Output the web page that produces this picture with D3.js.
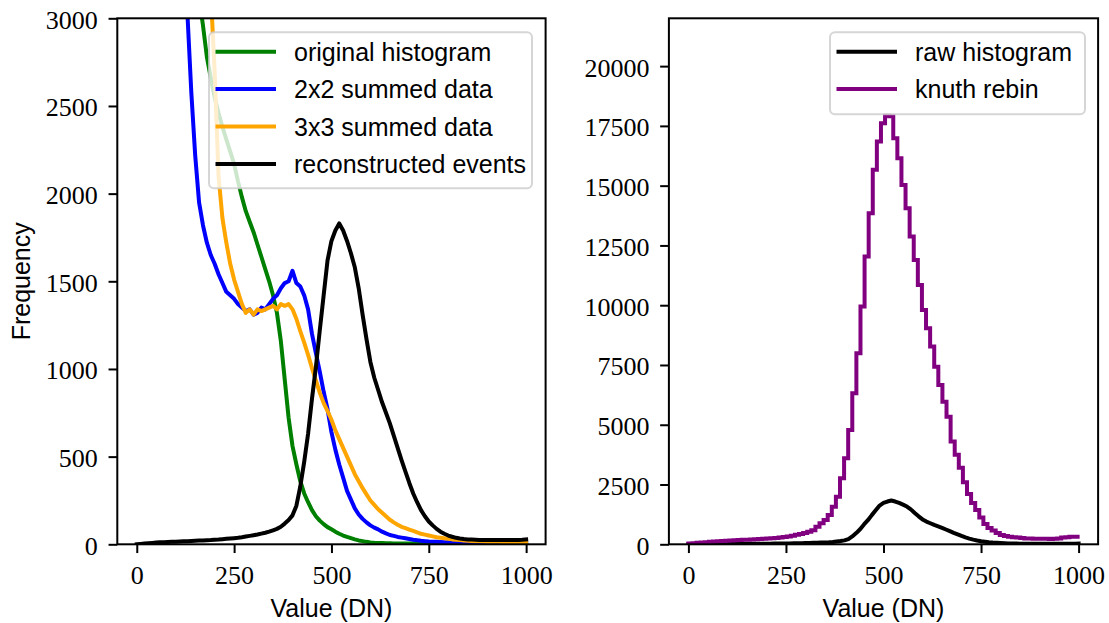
<!DOCTYPE html>
<html><head><meta charset="utf-8">
<script src="https://cdn.jsdelivr.net/npm/d3@7"></script>
<style>body{margin:0;background:#fff;} svg{display:block;}</style>
</head><body>
<svg id="chart" width="1109" height="623"></svg>
<script>
// ---------------- data ----------------
const dnGrid = [0,10,20,30,40,50,60,70,80,90,100,110,120,130,140,150,160,170,180,190,200,210,220,230,240,250,260,270,280,290,300,310,320,330,340,350,360,370,380,390,400,410,420,430,440,450,460,470,480,490,500,510,520,530,540,550,560,570,580,590,600,610,620,630,640,650,660,670,680,690,700,710,720,730,740,750,760,770,780,790,800,810,820,830,840,850,860,870,880,890,900,910,920,930,940,950,960,970,980,990,1000];

const originalHist = [12000,11000,10000,9200,8400,7700,7000,6400,5800,5300,4850,4450,4100,3800,3530,3300,3120,2960,2780,2660,2550,2460,2380,2310,2240,2170,2070,1980,1900,1840,1780,1710,1640,1570,1500,1420,1320,1160,940,720,560,455,360,290,240,195,160,135,115,98,86,72,60,50,42,35,28,22,18,14,11,9,8,7,6,6,5,5,5,4,4,4,4,4,4,3,3,3,3,3,3,3,3,3,3,3,3,3,3,3,3,3,3,3,3,3,3,3,3,3,3];

const summed2x2 = [20000,17000,14500,12500,10800,9300,8000,6900,6000,5200,4500,3950,3450,3030,2580,2220,1950,1820,1720,1650,1600,1540,1490,1440,1420,1400,1370,1350,1330,1340,1310,1320,1350,1340,1370,1400,1420,1460,1490,1500,1560,1490,1470,1420,1340,1200,1090,985,870,770,640,540,455,380,305,255,205,170,145,125,108,95,85,72,62,53,48,42,38,34,30,26,23,20,18,16,15,14,13,12,12,11,11,10,10,10,9,9,9,9,8,8,8,8,8,8,8,8,8,8,8];

const summed3x3 = [30000,27500,25000,22500,20000,18000,16000,14200,12500,11100,9800,8700,7600,6700,5900,5200,4550,4000,3550,3150,2700,2100,1860,1720,1600,1510,1440,1370,1320,1340,1310,1340,1330,1340,1350,1360,1340,1370,1360,1370,1340,1285,1215,1150,1080,1005,935,865,805,760,710,650,600,550,500,450,400,360,320,285,250,225,200,180,160,140,125,112,100,92,84,76,68,60,55,50,45,40,37,34,31,28,26,24,22,20,19,18,17,16,15,15,14,14,13,13,12,12,12,11,11];

const reconstructed = [0,2,4,6,8,10,11,12,13,14,15,16,17,18,19,20,21,22,23,24,26,27,29,31,33,35,37,40,44,48,52,56,61,66,72,80,88,100,118,138,165,220,330,470,630,830,1010,1220,1420,1620,1730,1790,1830,1790,1730,1660,1580,1460,1310,1170,1040,950,880,810,750,690,620,550,480,415,350,290,240,195,160,130,108,88,72,60,50,43,37,33,30,28,27,26,25,25,25,24,24,25,25,24,24,25,25,26,28];

const knuthEdges = [0,10.5,21,31.5,42,52.5,63,73.5,84,94.5,105,115.5,126,136.5,147,157.5,168,178.5,189,199.5,210,220.5,231,241.5,252,262.5,273,283.5,294,304.5,315,325.5,336,346.5,357,367.5,378,388.5,399,409.5,420,430.5,441,451.5,462,472.5,483,493.5,504,514.5,525,535.5,546,556.5,567,577.5,588,598.5,609,619.5,630,640.5,651,661.5,672,682.5,693,703.5,714,724.5,735,745.5,756,766.5,777,787.5,798,808.5,819,829.5,840,850.5,861,871.5,882,892.5,903,913.5,924,934.5,945,955.5,966,976.5,987,997.5];

const knuthCounts = [30,45,60,75,90,105,115,130,140,150,160,170,180,190,195,205,210,220,230,240,250,265,285,305,330,360,395,430,470,520,590,736,879,1017,1226,1573,1992,2762,3598,4782,6318,7992,9941,12034,13849,15661,16845,17615,17950,17900,16987,16151,15033,14059,12870,11895,10849,9803,9038,8268,7431,6665,5967,5339,4300,3750,3200,2600,2100,1730,1430,1120,850,680,575,470,390,350,320,295,280,260,245,240,235,232,230,228,225,230,240,280,300,315,320];

const xTicks = [0,250,500,750,1000];
const yTicksLeft = [0,500,1000,1500,2000,2500,3000];
const yTicksRight = [0,2500,5000,7500,10000,12500,15000,17500,20000];

const leftSeries = [
  {name:"original histogram", color:"green", values: originalHist},
  {name:"2x2 summed data", color:"blue", values: summed2x2},
  {name:"3x3 summed data", color:"orange", values: summed3x3},
  {name:"reconstructed events", color:"black", values: reconstructed}
];

// ---------------- layout ----------------
const svg = d3.select("#chart");
const plotTop = 18.3, plotBottom = 544.3;
const L = {x0:117.3, x1:545.6};
const R = {x0:668.9, x1:1098.1};
const serif = "'Liberation Serif', 'Times New Roman', serif";
const sans = "'Liberation Sans', Arial, sans-serif";
const lw = 4;

const xL = d3.scaleLinear().domain([-50,1050]).range([L.x0, L.x1]);
const xR = d3.scaleLinear().domain([-50,1050]).range([R.x0, R.x1]);
const yL = d3.scaleLinear().domain([0,3000]).range([plotBottom, plotTop]);
const yR = d3.scaleLinear().domain([0,22000]).range([plotBottom, plotTop]);

const defs = svg.append("defs");
defs.append("clipPath").attr("id","clipL").append("rect")
  .attr("x",L.x0).attr("y",plotTop).attr("width",L.x1-L.x0).attr("height",plotBottom-plotTop);
defs.append("clipPath").attr("id","clipR").append("rect")
  .attr("x",R.x0).attr("y",plotTop).attr("width",R.x1-R.x0).attr("height",plotBottom-plotTop);

// ---- left lines ----
const gL = svg.append("g").attr("clip-path","url(#clipL)");
leftSeries.forEach(s => {
  const line = d3.line().x((d,i)=>xL(dnGrid[i])).y(d=>yL(d));
  gL.append("path").datum(s.values).attr("d", line)
    .attr("fill","none").attr("stroke", s.color).attr("stroke-width", lw)
    .attr("stroke-linejoin","round").attr("stroke-linecap","square");
});

// ---- right lines ----
const gR = svg.append("g").attr("clip-path","url(#clipR)");
gR.append("path").datum(reconstructed)
  .attr("d", d3.line().x((d,i)=>xR(dnGrid[i])).y(d=>yR(d)))
  .attr("fill","none").attr("stroke","black").attr("stroke-width",lw)
  .attr("stroke-linejoin","round").attr("stroke-linecap","square");
const stepPts = knuthCounts.map((c,i)=>[knuthEdges[i], c]);
stepPts.push([knuthEdges[knuthEdges.length-1], knuthCounts[knuthCounts.length-1]]);
gR.append("path").datum(stepPts)
  .attr("d", d3.line().curve(d3.curveStepAfter).x(d=>xR(d[0])).y(d=>yR(d[1])))
  .attr("fill","none").attr("stroke","purple").attr("stroke-width",lw)
  .attr("stroke-linejoin","miter").attr("stroke-linecap","square");

// ---- axes ----
function styleAxis(g){
  g.select(".domain").remove();
  g.selectAll(".tick line").attr("stroke","black").attr("stroke-width",2);
  g.selectAll(".tick text").attr("font-family",serif).attr("font-size",26).attr("fill","black");
}
function drawAxes(x, y, yTicks, A){
  const gx = svg.append("g").attr("transform",`translate(0,${plotBottom})`)
    .call(d3.axisBottom(x).tickValues(xTicks).tickFormat(d3.format("d")).tickSize(8.75).tickPadding(12));
  styleAxis(gx);
  const gy = svg.append("g").attr("transform",`translate(${A.x0},0)`)
    .call(d3.axisLeft(y).tickValues(yTicks).tickFormat(d3.format("d")).tickSize(8.75).tickPadding(10.75));
  styleAxis(gy);
  gy.selectAll(".tick text").attr("dy","0.38em");
  svg.append("rect").attr("x",A.x0).attr("y",plotTop).attr("width",A.x1-A.x0).attr("height",plotBottom-plotTop)
    .attr("fill","none").attr("stroke","black").attr("stroke-width",2);
  svg.append("text").attr("x",(A.x0+A.x1)/2).attr("y",616.5).attr("text-anchor","middle")
    .attr("font-family",sans).attr("font-size",25).text("Value (DN)");
}
drawAxes(xL, yL, yTicksLeft, L);
drawAxes(xR, yR, yTicksRight, R);

svg.append("text").attr("transform",`translate(30,${(plotTop+plotBottom)/2}) rotate(-90)`)
  .attr("text-anchor","middle").attr("font-family",sans).attr("font-size",25).text("Frequency");

// ---- legends ----
function legend(items, box){
  const g = svg.append("g");
  g.append("rect").attr("x",box.x).attr("y",box.y).attr("width",box.w).attr("height",box.h)
    .attr("rx",5).attr("fill","white").attr("fill-opacity",0.8)
    .attr("stroke","#cccccc").attr("stroke-opacity",0.8).attr("stroke-width",2);
  items.forEach((it,i)=>{
    const cy = box.y + 19.4 + i*37.4;
    g.append("line").attr("x1",box.x+8.5).attr("x2",box.x+65).attr("y1",cy).attr("y2",cy)
      .attr("stroke",it.color).attr("stroke-width",lw).attr("stroke-linecap","square");
    g.append("text").attr("x",box.x+85).attr("y",cy+9).attr("font-family",sans)
      .attr("font-size",25).attr("fill","black").text(it.name);
  });
}
legend(leftSeries, {x:209, y:32.3, w:323, h:156});
legend([{name:"raw histogram", color:"black"},{name:"knuth rebin", color:"purple"}],
       {x:830, y:32.3, w:255, h:82});
</script>
</body></html>
